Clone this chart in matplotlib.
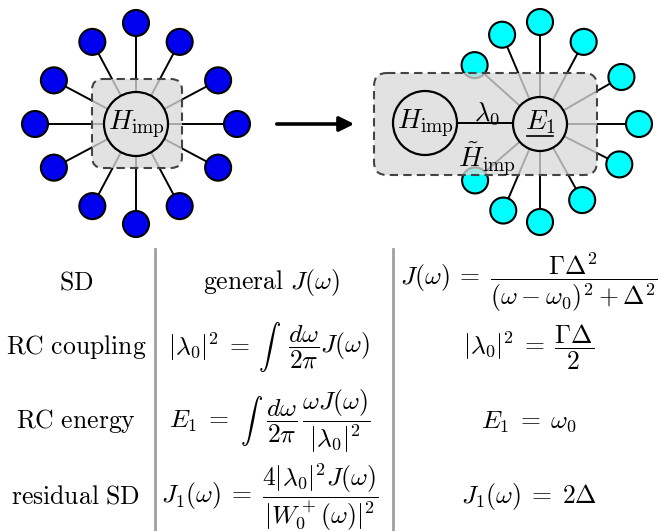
import numpy as np
import matplotlib.pyplot as plt
from matplotlib.patches import Circle, FancyBboxPatch

plt.rcParams['mathtext.fontset'] = 'cm'

# star diagrams: spoke angles (deg) and spoke lengths (px)
left_angles = [0, 28, 62, 90, 118, 152, 180, 208, 242, 270, 298, 332]
left_len = [101, 93, 93, 101, 93, 93, 101, 93, 93, 100, 93, 93]
right_angles = [0, 30, 62, 90, 113, 138, 221, 247, 270, 299, 333]
right_len = [99, 94, 93, 102, 97, 88, 86, 94, 98, 87, 89]

# table contents
row_labels = [r"$\mathrm{SD}$", r"$\mathrm{RC\ coupling}$", r"$\mathrm{RC\ energy}$", r"$\mathrm{residual\ SD}$"]
general_sd = r"$\mathrm{general}\ J(\omega)$"
coupling_lhs = r"$|\lambda_0|^2\:=$"
coupling_rhs = r"$\dfrac{d\omega}{2\pi}J(\omega)$"
energy_lhs = r"$E_1\:=$"
energy_rhs = r"$\dfrac{d\omega}{2\pi}\,\dfrac{\omega J(\omega)}{|\lambda_0|^2}$"
general_res = r"$J_1(\omega)\:=\;\dfrac{4|\lambda_0|^2 J(\omega)}{|W_0^+(\omega)|^2}$"
lorentz_col = [
    r"$J(\omega)\:=\;\dfrac{\Gamma\Delta^2}{(\omega-\omega_0)^2+\Delta^2}$",
    r"$|\lambda_0|^2\:=\;\dfrac{\Gamma\Delta}{2}$",
    r"$E_1\:=\;\omega_0$",
    r"$J_1(\omega)\:=\;2\Delta$",
]
row_y = [282, 347, 421, 497]

fig = plt.figure(figsize=(6.6, 5.31), dpi=100)
ax = fig.add_axes([0, 0, 1, 1])
ax.set_xlim(0, 660)
ax.set_ylim(531, 0)
ax.set_aspect('equal')
ax.axis('off')

lw = 1.4
node_r = 13
box_fc = (0.853, 0.853, 0.853)
box_alpha = 0.77
inner_fc = '#e2e2e2'


def star(cx, cy, angles, lengths, color):
    for a, d in zip(angles, lengths):
        x = cx + d * np.cos(np.radians(a))
        y = cy - d * np.sin(np.radians(a))
        ax.plot([cx, x], [cy, y], color='black', lw=lw, zorder=1)
        ax.add_patch(Circle((x, y), node_r, fc=color, ec='black', lw=1.5, zorder=2))


def dashed_box(x0, y0, w, h, pad):
    ax.add_patch(FancyBboxPatch((x0 + pad, y0 + pad), w - 2 * pad, h - 2 * pad,
                                boxstyle=f"round,pad={pad}", fc=box_fc, alpha=box_alpha,
                                ec='none', zorder=3))
    ax.add_patch(FancyBboxPatch((x0 + pad, y0 + pad), w - 2 * pad, h - 2 * pad,
                                boxstyle=f"round,pad={pad}", fc='none', ec='#444444',
                                lw=1.5, ls=(0, (4, 2.5)), zorder=3))


# left star
cx, cy = 136, 124
star(cx, cy, left_angles, left_len, '#0000ee')
dashed_box(92, 79, 90, 89, 11)
ax.add_patch(Circle((cx, cy), 32, fc=inner_fc, ec='black', lw=1.6, zorder=4))
ax.text(cx, cy, r"$H_{\rm imp}$", fontsize=20, ha='center', va='center', zorder=5)

# arrow
ax.annotate("", xy=(357, 124), xytext=(274, 124),
            arrowprops=dict(arrowstyle="-|>", lw=2.6, color='black', mutation_scale=22))

# right star
ex, ey = 540, 124
hx, hy = 425, 123
star(ex, ey, right_angles, right_len, '#00ffff')
dashed_box(374, 73, 223, 102, 13)
ax.plot([hx, ex], [hy, hy], color='black', lw=lw, zorder=4)
ax.add_patch(Circle((hx, hy), 32, fc=inner_fc, ec='black', lw=1.6, zorder=4))
ax.add_patch(Circle((ex, ey), 27, fc=inner_fc, ec='black', lw=1.6, zorder=4))
ax.text(hx, hy, r"$H_{\rm imp}$", fontsize=20, ha='center', va='center', zorder=5)
ax.text(ex, ey - 2, r"$E_1$", fontsize=20, ha='center', va='center', zorder=5)
ax.plot([ex - 13, ex + 13], [ey + 12, ey + 12], color='black', lw=1.2, zorder=5)
ax.text(487, 114, r"$\lambda_0$", fontsize=19, ha='center', va='center', zorder=5)
ax.text(487, 159, r"$\tilde{H}_{\rm imp}$", fontsize=20, ha='center', va='center', zorder=5)

# table
ax.plot([155, 155], [249, 531], color='#a0a0a0', lw=2)
ax.plot([393, 393], [249, 531], color='#a0a0a0', lw=2)
fs = 18.5
for y, lab, l in zip(row_y, row_labels, lorentz_col):
    ax.text(76, y, lab, fontsize=18.5, ha='center', va='center')
    ax.text(529, y, l, fontsize=fs, ha='center', va='center')

ax.text(272, row_y[0], general_sd, fontsize=fs, ha='center', va='center')
ax.text(250, row_y[1], coupling_lhs, fontsize=fs, ha='right', va='center')
ax.text(288, row_y[1], coupling_rhs, fontsize=fs, ha='left', va='center')
ax.text(229, row_y[2], energy_lhs, fontsize=fs, ha='right', va='center')
ax.text(266, row_y[2], energy_rhs, fontsize=fs, ha='left', va='center')
ax.text(270, row_y[3], general_res, fontsize=fs, ha='center', va='center')

# display-size integral signs: pick the font size whose glyph is ~55 px tall
renderer = fig.canvas.get_renderer()
probe = ax.text(0, 0, r"$\int$", fontsize=18)
best_fs, best_err = 18, 1e9
for s in np.arange(16, 40, 0.5):
    probe.set_fontsize(s)
    h = probe.get_window_extent(renderer).height
    if abs(h - 55) < best_err:
        best_fs, best_err = s, abs(h - 55)
probe.remove()
ax.text(270, row_y[1], r"$\int$", fontsize=best_fs, ha='center', va='center')
ax.text(251, row_y[2], r"$\int$", fontsize=best_fs, ha='center', va='center')

fig.savefig("out.png", dpi=100)
